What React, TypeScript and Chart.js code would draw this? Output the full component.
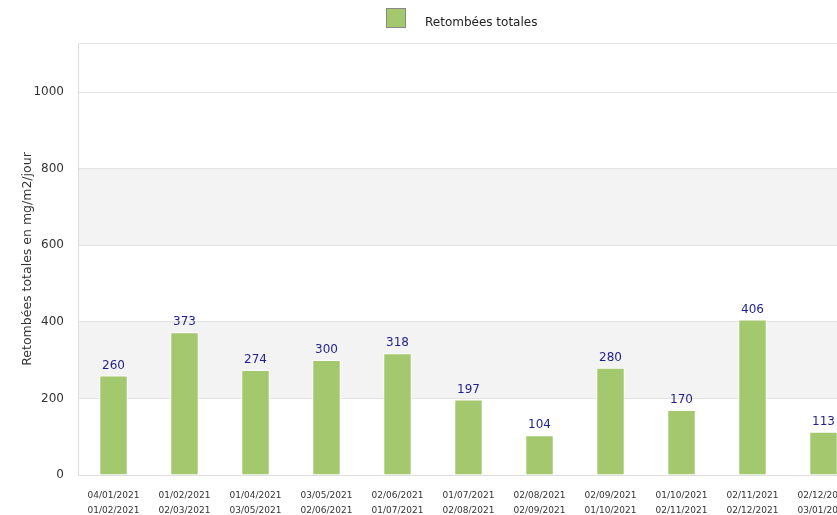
import React, { useEffect, useRef } from "react";
import { Chart, registerables } from "chart.js";

Chart.register(...registerables);

const categories: string[][] = [
  ["04/01/2021", "01/02/2021"],
  ["01/02/2021", "02/03/2021"],
  ["01/04/2021", "03/05/2021"],
  ["03/05/2021", "02/06/2021"],
  ["02/06/2021", "01/07/2021"],
  ["01/07/2021", "02/08/2021"],
  ["02/08/2021", "02/09/2021"],
  ["02/09/2021", "01/10/2021"],
  ["01/10/2021", "02/11/2021"],
  ["02/11/2021", "02/12/2021"],
  ["02/12/2021", "03/01/2022"],
];
const values: number[] = [260, 373, 274, 300, 318, 197, 104, 280, 170, 406, 113];
const seriesLabel = "Retombées totales";
const yTitle = "Retombées totales en mg/m2/jour";
const yTicks: number[] = [0, 200, 400, 600, 800, 1000];
const yMax = 1128;

const FONT = "'DejaVu Sans', sans-serif";
const BAR_COLOR = "#a3c86d";

const bandsPlugin = {
  id: "bands",
  beforeDraw(chart: any) {
    const { ctx, chartArea } = chart;
    const y = chart.scales.y;
    ctx.save();
    ctx.fillStyle = "#f3f3f3";
    for (let i = 1; i + 1 < yTicks.length; i += 2) {
      const top = y.getPixelForValue(yTicks[i + 1]);
      const bottom = y.getPixelForValue(yTicks[i]);
      ctx.fillRect(chartArea.left, top, chartArea.right - chartArea.left, bottom - top);
    }
    ctx.restore();
  },
};

const labelsPlugin = {
  id: "valueLabels",
  afterDatasetsDraw(chart: any) {
    const { ctx } = chart;
    const meta = chart.getDatasetMeta(0);
    ctx.save();
    ctx.fillStyle = "#1f1f8f";
    ctx.font = `12px ${FONT}`;
    ctx.textAlign = "center";
    ctx.textBaseline = "bottom";
    meta.data.forEach((bar: any, i: number) => {
      ctx.fillText(String(values[i]), bar.x, bar.y - 4);
    });
    ctx.restore();
  },
};

const legendPlugin = {
  id: "customLegend",
  afterDraw(chart: any) {
    const { ctx, width } = chart;
    ctx.save();
    ctx.font = `12px ${FONT}`;
    const textW = ctx.measureText(seriesLabel).width;
    const total = 20 + 19 + textW;
    const x0 = Math.round(width / 2 - total / 2) - 2;
    ctx.fillStyle = BAR_COLOR;
    ctx.fillRect(x0, 8, 20, 20);
    ctx.strokeStyle = "#888";
    ctx.lineWidth = 1;
    ctx.strokeRect(x0 + 0.5, 8.5, 19, 19);
    ctx.fillStyle = "#222";
    ctx.textAlign = "left";
    ctx.textBaseline = "middle";
    ctx.fillText(seriesLabel, x0 + 39, 23);
    ctx.restore();
  },
};

export default function App() {
  const ref = useRef<HTMLCanvasElement | null>(null);

  useEffect(() => {
    document.body.style.margin = "0";
    const canvas = ref.current;
    if (!canvas) return;
    const chart = new Chart(canvas, {
      type: "bar",
      data: {
        labels: categories,
        datasets: [
          {
            label: seriesLabel,
            data: values,
            backgroundColor: BAR_COLOR,
            borderColor: "rgba(255,255,255,0.9)",
            borderWidth: 1,
            barPercentage: 0.4,
            categoryPercentage: 1,
          },
        ],
      },
      options: {
        responsive: false,
        animation: false,
        devicePixelRatio: 1,
        layout: { padding: { left: 20, right: 69, top: 43, bottom: 0 } },
        plugins: {
          legend: { display: false },
          tooltip: { enabled: false },
          title: { display: false },
        },
        scales: {
          x: {
            grid: { display: false, drawTicks: false },
            border: { display: true, color: "#dddddd" },
            ticks: {
              color: "#333",
              font: { family: FONT, size: 9, lineHeight: 1.65 },
              padding: 13,
              maxRotation: 0,
              autoSkip: false,
            },
            afterFit(scale: any) {
              scale.height = 40;
            },
          },
          y: {
            min: 0,
            max: yMax,
            afterBuildTicks(scale: any) {
              scale.ticks = [...yTicks.map((v) => ({ value: v })), { value: yMax }];
            },
            afterFit(scale: any) {
              scale.width = 58;
            },
            grid: { color: "#e3e3e3", drawTicks: false },
            border: { display: true, color: "#dddddd" },
            ticks: {
              color: "#333",
              font: { family: FONT, size: 12 },
              padding: 14,
              callback: (v: any) => (Number(v) <= 1000 ? String(v) : ""),
            },
            title: {
              display: true,
              text: yTitle,
              color: "#333",
              font: { family: FONT, size: 12.5 },
              padding: 0,
            },
          },
        },
      },
      plugins: [bandsPlugin, labelsPlugin, legendPlugin],
    });
    return () => chart.destroy();
  }, []);

  return (
    <div style={{ width: 837, height: 515, overflow: "hidden", position: "relative" }}>
      <canvas ref={ref} width={928} height={515} style={{ display: "block" }} />
    </div>
  );
}
